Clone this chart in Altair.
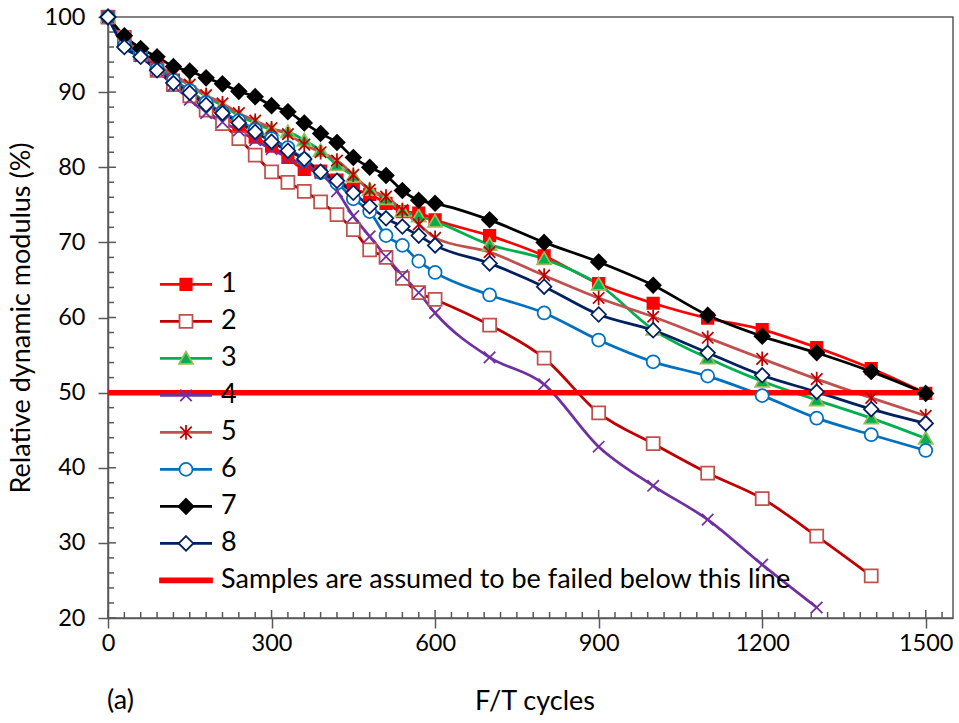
import altair as alt
import pandas as pd

# ---------------- data ----------------
cycles = [0, 30, 60, 90, 120, 150, 180, 210, 240, 270, 300, 330, 360, 390, 420,
          450, 480, 510, 540, 570, 600, 700, 800, 900, 1000, 1100, 1200, 1300, 1400, 1500]

s1 = [100, 97.2, 95.3, 93.3, 91.6, 90.0, 88.2, 86.7, 85.5, 84.0, 82.8, 81.3, 79.7, 79.5, 78.3,
      77.1, 76.4, 75.2, 74.1, 73.9, 73.0, 70.9, 68.2, 64.5, 61.9, 59.9, 58.4, 56.0, 53.2, 49.9]
s2 = [100, 97.3, 95.0, 92.9, 91.0, 89.5, 87.6, 85.8, 83.8, 81.6, 79.4, 78.0, 76.8, 75.4, 73.7,
      71.7, 69.0, 68.0, 65.2, 63.3, 62.4, 59.0, 54.6, 47.3, 43.2, 39.3, 35.9, 30.9, 25.6, None]
s3 = [100, 96.8, 95.6, 93.6, 92.1, 90.9, 89.4, 88.2, 86.9, 85.9, 85.0, 84.7, 83.6, 82.2, 80.3,
      78.8, 77.0, 75.8, 74.2, 73.5, 72.8, 69.7, 67.8, 64.4, 58.4, 54.6, 51.5, 49.0, 46.6, 43.9]
s4 = [100, 96.4, 94.8, 92.9, 90.9, 89.0, 87.2, 86.0, 84.9, 83.6, 82.4, 81.3, 80.3, 79.2, 76.8,
      73.5, 70.8, 68.1, 65.6, 63.3, 60.6, 54.7, 51.1, 42.8, 37.6, 33.1, 27.1, 21.4, None, None]
s5 = [100, 97.0, 95.4, 93.7, 92.3, 91.0, 89.6, 88.5, 87.2, 86.2, 85.2, 84.4, 83.0, 82.0, 80.9,
      79.0, 77.0, 76.1, 74.3, 72.4, 70.6, 68.7, 65.6, 62.6, 60.1, 57.3, 54.5, 51.8, 49.3, 46.9]
s6 = [100, 96.2, 95.0, 93.1, 91.6, 90.2, 88.6, 87.3, 86.2, 85.0, 83.8, 82.6, 81.0, 79.3, 77.9,
      75.8, 74.1, 70.9, 69.6, 67.5, 66.0, 63.0, 60.6, 57.0, 54.1, 52.2, 49.6, 46.6, 44.4, 42.3]
s7 = [100, 97.5, 95.8, 94.7, 93.4, 92.8, 91.9, 91.1, 90.1, 89.4, 88.2, 87.4, 85.9, 84.5, 83.3,
      81.3, 80.0, 78.9, 76.9, 75.6, 75.2, 73.0, 70.0, 67.4, 64.3, 60.3, 57.5, 55.3, 52.8, 49.9]
s8 = [100, 96.0, 94.7, 92.9, 91.2, 89.9, 88.3, 87.2, 85.9, 84.7, 83.4, 82.2, 81.1, 79.4, 78.2,
      76.6, 74.8, 73.2, 72.1, 70.9, 69.6, 67.2, 64.1, 60.4, 58.3, 55.3, 52.3, 50.1, 47.8, 45.9]

series_names = ["1", "2", "3", "4", "5", "6", "7", "8"]
threshold_label = "Samples are assumed to be failed below this line"
threshold_value = [50]
threshold_from = [0]
threshold_to = [1500]

x_major = [0, 300, 600, 900, 1200, 1500]
x_minor = [v for v in range(30, 1531, 30) if v % 300 != 0]
y_major = [20, 30, 40, 50, 60, 70, 80, 90, 100]
y_minor = [v for v in range(22, 100, 2) if v % 10 != 0]

# ---------------- styles ----------------
legend_domain = series_names + [threshold_label]
line_colors = ["#FF0000", "#C00000", "#00B050", "#7030A0", "#C0504D",
               "#0070C0", "#000000", "#002060", "#FF0000"]
marker_strokes = ["#FF0000", "#C0504D", "#9BBB59", "#7030A0", "#C00000",
                  "#0070C0", "#000000", "#002060", "#FF0000"]
marker_fills = ["#FF0000", "#FFFFFF", "#00B050", "transparent", "transparent",
                "#FFFFFF", "#000000", "#FFFFFF", "#FF0000"]
marker_paths = [
    "M-0.22,-0.22H0.22V0.22H-0.22Z",                              # filled square
    "M-0.25,-0.25H0.25V0.25H-0.25Z",                              # open square
    "M0,-0.26L0.27,0.21H-0.27Z",                                  # triangle
    "M-0.22,-0.22L0.22,0.22M-0.22,0.22L0.22,-0.22",               # x
    "M-0.22,-0.22L0.22,0.22M-0.22,0.22L0.22,-0.22M0,-0.28V0.28",  # asterisk
    "M0.25,0A0.25,0.25,0,1,1,-0.25,0A0.25,0.25,0,1,1,0.25,0Z",    # circle
    "M0,-0.29L0.29,0L0,0.29L-0.29,0Z",                            # filled diamond
    "M0,-0.28L0.28,0L0,0.28L-0.28,0Z",                            # open diamond
    "M-1,-0.075H1V0.075H-1Z",                                     # thick red line
]

rows = []
for name, vals in zip(series_names, [s1, s2, s3, s4, s5, s6, s7, s8]):
    for c, v in zip(cycles, vals):
        if v is not None:
            rows.append({"cycles": c, "value": v, "series": name, "s2": name})
df = pd.DataFrame(rows)

FONT = "Lato"
FS_TICK = 23.5
FS_TEXT = 27
AX = "#595959"
W, H = 845, 601

xscale = alt.Scale(domain=[0, 1550], nice=False, zero=False)
yscale = alt.Scale(domain=[20, 100], nice=False, zero=False)

xaxis = alt.Axis(values=x_major, format="d", tickSize=10, labelPadding=3,
                 labelFlush=False, title="F/T cycles", titleX=W / 2 + 4, titleY=83,
                 titleBaseline="middle", titleAlign="center")
yaxis = alt.Axis(values=y_major, format="d", tickSize=10, labelPadding=13,
                 title="Relative dynamic modulus (%)", titleX=-87, titleY=H / 2,
                 titleAngle=-90, titleBaseline="middle", titleAlign="center")

leg_common = dict(orient="none", legendY=249, clipHeight=36.75, rowPadding=0,
                  symbolSize=2704, labelFont=FONT, labelFontSize=FS_TEXT, title=None,
                  padding=0, offset=0, labelLimit=0)

leg_lines = alt.Legend(legendX=50.5, symbolType="M-1,0H1", symbolStrokeWidth=2.75,
                       labelOffset=7.5, labelColor="black", **leg_common)
leg_marks = alt.Legend(legendX=51, symbolStrokeWidth=1.75, labelOffset=8.5,
                       labelOpacity=0, symbolOpacity=1, **leg_common)


def X(field):
    return alt.X(field, type="quantitative", scale=xscale, axis=xaxis)


def Y(field):
    return alt.Y(field, type="quantitative", scale=yscale, axis=yaxis)


lines = alt.Chart(df).mark_line(strokeWidth=2.75, interpolate="monotone").encode(
    x=X("cycles"),
    y=Y("value"),
    color=alt.Color("series:N", scale=alt.Scale(domain=legend_domain, range=line_colors),
                    legend=leg_lines),
)

thr_df = pd.DataFrame({"cycles": threshold_from, "x2": threshold_to, "value": threshold_value})
threshold = alt.Chart(thr_df).mark_rule(color="#FF0000", strokeWidth=5.5).encode(
    x=X("cycles"),
    x2="x2:Q",
    y=Y("value"),
)

points = alt.Chart(df).mark_point(size=2704, strokeWidth=1.75, opacity=1,
                                  fillOpacity=1, strokeOpacity=1).encode(
    x=X("cycles"),
    y=Y("value"),
    shape=alt.Shape("s2:N", scale=alt.Scale(domain=legend_domain, range=marker_paths),
                    legend=leg_marks),
    fill=alt.Fill("s2:N", scale=alt.Scale(domain=legend_domain, range=marker_fills),
                  legend=leg_marks),
    stroke=alt.Stroke("s2:N", scale=alt.Scale(domain=legend_domain, range=marker_strokes),
                      legend=leg_marks),
)

# inner halves of tick marks (Excel style crossing ticks)
ymaj_df = pd.DataFrame({"value": y_major})
ymin_df = pd.DataFrame({"value": y_minor})
xmaj_df = pd.DataFrame({"cycles": x_major})
xmin_df = pd.DataFrame({"cycles": x_minor})

yin_major = alt.Chart(ymaj_df).mark_rule(color=AX, strokeWidth=1.5).encode(
    y=Y("value"), x=alt.value(0), x2=alt.value(8))
yin_minor = alt.Chart(ymin_df).mark_rule(color=AX, strokeWidth=1.5).encode(
    y=Y("value"), x=alt.value(0), x2=alt.value(6))
xin_major = alt.Chart(xmaj_df).mark_rule(color=AX, strokeWidth=1.5).encode(
    x=X("cycles"), y=alt.value(H), y2=alt.value(H - 8))
xin_minor = alt.Chart(xmin_df).mark_rule(color=AX, strokeWidth=1.5).encode(
    x=X("cycles"), y=alt.value(H), y2=alt.value(H - 6))

panel_df = pd.DataFrame({"t": ["(a)"]})
panel = alt.Chart(panel_df).mark_text(font=FONT, fontSize=FS_TEXT, align="left",
                                      baseline="middle", color="black").encode(
    text="t:N", x=alt.value(-1), y=alt.value(H + 83))

chart = alt.layer(
    lines, yin_major, yin_minor, xin_major, xin_minor,
    threshold, points, panel
).resolve_scale(
    color="independent", shape="independent", fill="independent", stroke="independent"
).properties(
    width=W, height=H, autosize="none",
    padding={"left": 108, "top": 17, "right": 6, "bottom": 105},
    background="white",
).configure_view(
    stroke=AX, strokeWidth=1.5
).configure_axis(
    grid=False, domainColor=AX, domainWidth=1.5, tickColor=AX, tickWidth=1.5,
    labelFont=FONT, labelFontSize=FS_TICK, labelColor="black",
    titleFont=FONT, titleFontSize=FS_TEXT, titleFontWeight="normal", titleColor="black",
)

chart.save("out.html", embed_options={"renderer": "svg", "actions": False})
